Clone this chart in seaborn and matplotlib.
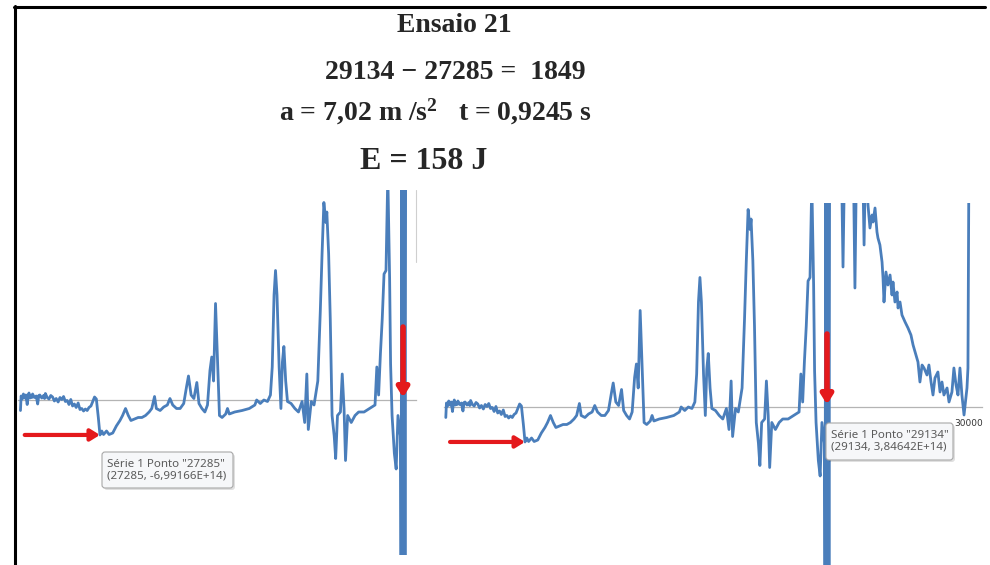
import matplotlib
matplotlib.use("Agg")
import matplotlib.pyplot as plt
import matplotlib.transforms as mtransforms
from matplotlib.lines import Line2D
from matplotlib.patches import FancyBboxPatch
import pandas as pd
import seaborn as sns

# ---------------- data (sample index, value in units of 1E+14) ----------------
amostra = [
    26800, 26804, 26811, 26818, 26826, 26833, 26841, 26847, 26852, 26858,
    26863, 26870, 26874, 26885, 26896, 26905, 26912, 26918, 26930, 26941,
    26947, 26952, 26963, 26974, 26985, 26996, 27007, 27018, 27030, 27041,
    27052, 27063, 27074, 27085, 27096, 27107, 27118, 27129, 27140, 27152,
    27163, 27174, 27185, 27196, 27207, 27218, 27230, 27241, 27252, 27263,
    27275, 27285, 27296, 27307, 27325, 27341,
    27363, 27385, 27407, 27423, 27441, 27458, 27474, 27496, 27518, 27541,
    27563, 27585, 27601, 27618, 27629, 27652, 27674, 27696, 27712, 27729,
    27752, 27774, 27796, 27814, 27825, 27841, 27858, 27876, 27889, 27907,
    27925, 27941, 27956, 27967, 27978, 27990, 28001, 28014, 28030, 28052,
    28063, 28074, 28107, 28152, 28196, 28230, 28241, 28263, 28285, 28307,
    28325, 28336, 28347, 28356, 28365, 28378, 28389, 28398, 28407, 28418,
    28429, 28451, 28474, 28496, 28518, 28534, 28547, 28556, 28574, 28591,
    28614, 28629, 28640, 28651, 28663, 28669, 28680, 28690, 28701, 28714,
    28723, 28734, 28752, 28763, 28774, 28783, 28796, 28818, 28841, 28863,
    28896, 28930, 28963, 28974, 28985, 28996, 29007, 29018, 29030, 29041,
    29052, 29058, 29067, 29081, 29092, 29103, 29118, 29122, 29126, 29130,
    29134, 29138, 29142, 29146, 29150, 29222, 29232, 29242, 29295, 29305,
    29315, 29352, 29361, 29370, 29385, 29397, 29410, 29416, 29428, 29440,
    29446, 29458, 29471, 29477, 29483, 29495, 29507, 29520, 29532, 29538,
    29550, 29563, 29569, 29581, 29593, 29612, 29630, 29648, 29661, 29679,
    29691, 29703, 29716, 29728, 29746, 29758, 29771, 29783, 29795, 29813,
    29826, 29838, 29850, 29869, 29881, 29899, 29911, 29924, 29936, 29948,
    29960, 29973, 29991, 29997, 30003,
]
valor = [
    -2.1, 0.8, 0.2, 1.2, 0.4, 1.0, -0.9, 0.9, 1.4, 0.4,
    0.9, 0.5, 1.2, 0.5, 0.8, -0.8, 0.9, 1.0, 0.4, 0.9,
    0.3, 1.3, 0.5, 0.2, 0.9, 0.6, -0.2, 0.3, -0.4, 0.5,
    0.1, 0.7, -0.3, -0.1, -0.9, 0.1, -1.2, -0.8, -1.5, -0.6,
    -1.9, -1.7, -2.2, -1.8, -2.1, -1.5, -1.2, -0.3, 0.6, 0.2,
    -3.5, -6.99166, -6.2, -6.9, -6.2, -6.9,
    -6.6, -5.2, -4.1, -3.1, -1.7, -3.1, -4.1, -3.8, -3.5, -3.5,
    -3.1, -2.4, -1.7, 0.7, -1.7, -2.1, -1.4, -1.0, 0.3, -1.0,
    -1.7, -1.7, -0.7, 2.8, 4.8, 1.0, 0.3, 3.5, -0.7, -1.7,
    -2.4, -1.0, 5.9, 8.6, 3.8, 19.3, 9.3, -3.1, -3.5, -2.8,
    -1.7, -2.8, -2.4, -2.1, -1.7, -1.0, 0.0, -0.7, 0.0, -0.3,
    1.0, 6.6, 21.0, 25.9, 21.0, 6.6, -1.7, 7.6, 10.7, 3.8,
    -0.3, -0.7, -1.7, -2.4, -0.3, -4.5, 5.2, -5.9, -0.3, -1.0,
    3.8, 17.6, 29.3, 39.5, 35.5, 37.6, 29.3, 16.2, -3.1, -7.2,
    -11.7, -3.1, -2.4, 5.2, -1.7, -12.1, -3.1, -4.5, -3.1, -2.4,
    -2.4, -1.7, -1.0, 6.6, 1.0, 9.3, 16.2, 25.2, 25.9, 45.0,
    24.5, 7.2, -3.1, -10.7, -13.8, -3.1, -7.2, -40.0, 50.0, -40.0,
    3.84642, -40.0, 50.0, -40.0, 50.0, 50.0, 28.0, 50.0, 50.0, 23.8,
    50.0, 50.0, 32.4, 50.0, 40.4, 35.8, 38.4, 37.0, 39.8, 35.0,
    33.8, 32.4, 29.0, 25.8, 21.0, 27.0, 24.4, 26.4, 22.4, 25.0,
    21.0, 23.0, 19.8, 21.0, 18.4, 17.0, 15.8, 14.4, 12.4, 10.4,
    9.0, 5.0, 8.4, 7.8, 6.4, 8.4, 5.0, 2.4, 5.8, 7.0,
    3.0, 5.0, 2.4, 3.8, 1.0, 3.0, 7.8, 4.4, 2.4, 7.8,
    2.4, -1.6, 3.8, 7.8, 50.0,
]

ponto_inicio = 27285
valor_inicio = -6.99166
ponto_fim = 29134
valor_fim = 3.84642
ticks_x = [30000]
rotulos_x = ["30000"]

titulo = "Ensaio 21"
linha_diferenca = "29134 \u2212 27285 =  1849"
linha_at = "a = 7,02 m /s$^{2}$   t = 0,9245 s"
linha_energia = "E = 158 J"
dica_inicio = 'Série 1 Ponto "27285"\n(27285, -6,99166E+14)'
dica_fim = 'Série 1 Ponto "29134"\n(29134, 3,84642E+14)'

# ---------------- style ----------------
sns.set_style("white")
plt.rcParams["font.family"] = ["DejaVu Sans"]
plt.rcParams["mathtext.fontset"] = "custom"
plt.rcParams["mathtext.rm"] = "Liberation Serif:bold"
plt.rcParams["mathtext.bf"] = "Liberation Serif:bold"
plt.rcParams["mathtext.it"] = "Liberation Serif:bold"

W, H = 990, 565
fig = plt.figure(figsize=(W / 100, H / 100), dpi=100)
fig.patch.set_facecolor("white")


def fx(px):
    return px / W


def fy(py):
    return 1 - py / H


azul = "#4A7EBB"
vermelho = "#E4191C"
cinza_eixo = "#B4B4B4"

df = pd.DataFrame({"amostra": amostra, "valor": valor})

ax1 = fig.add_axes([fx(18), fy(555), 398 / W, 365 / H])
ax2 = fig.add_axes([fx(444), 0.0, 538 / W, 362 / H])

for ax, xl, yl in [(ax1, (26785, 29213), (-31, 42)), (ax2, (26789, 30083), (-31.6, 40.8))]:
    sns.lineplot(data=df, x="amostra", y="valor", ax=ax, color=azul,
                 linewidth=2.0, estimator=None, sort=False, zorder=3)
    ax.set_xlim(*xl)
    ax.set_ylim(*yl)
    ax.patch.set_alpha(0)
    for s in ["top", "right", "left"]:
        ax.spines[s].set_visible(False)
    ax.spines["bottom"].set_position(("data", 0))
    ax.spines["bottom"].set_color(cinza_eixo)
    ax.spines["bottom"].set_linewidth(0.9)
    ax.spines["bottom"].set_zorder(1)
    ax.set_yticks([])
    ax.set_xlabel("")
    ax.set_ylabel("")

ax1.set_xticks([])
ax2.set_xticks(ticks_x)
ax2.set_xticklabels(rotulos_x)
ax2.tick_params(axis="x", length=0, pad=8.5, labelsize=6.5, labelcolor="#333333")

# red arrows
estilo_seta = "-|>,head_length=0.45,head_width=0.28"
for ax in (ax1, ax2):
    ax.annotate("", xy=(ponto_inicio, valor_inicio),
                xytext=(ponto_inicio - 459, valor_inicio),
                arrowprops=dict(arrowstyle=estilo_seta, color=vermelho, lw=3.0,
                                mutation_scale=12, shrinkA=0, shrinkB=0),
                zorder=5)
    ax.annotate("", xy=(ponto_fim, 0.5), xytext=(ponto_fim, 14.6),
                arrowprops=dict(arrowstyle=estilo_seta, color=vermelho, lw=4.0,
                                mutation_scale=12, shrinkA=0, shrinkB=0),
                zorder=5)

# tooltips (pixel placement)
ident = mtransforms.IdentityTransform()


def dica(x0, y0, w, h, texto):
    sombra = FancyBboxPatch((x0 + 2, H - y0 - h - 2), w, h,
                            boxstyle="round,pad=0,rounding_size=3",
                            fc="#000000", ec="none", alpha=0.12,
                            transform=ident, zorder=8)
    caixa = FancyBboxPatch((x0, H - y0 - h), w, h,
                           boxstyle="round,pad=0,rounding_size=3",
                           fc="#F6F7F9", ec="#A8A8A8", lw=0.8,
                           transform=ident, zorder=9)
    fig.add_artist(sombra)
    fig.add_artist(caixa)
    fig.text(fx(x0 + 5), fy(y0 + h / 2), texto, ha="left", va="center",
             fontsize=8.3, color="#5A5A5A", family=["Noto Sans", "DejaVu Sans"],
             linespacing=1.1, zorder=10)


dica(102, 452, 131, 36, dica_inicio)
dica(826, 423, 127, 37, dica_fim)

# header texts
serif = ["Liberation Serif", "DejaVu Serif"]
fig.text(fx(454), fy(32), titulo, ha="center", va="baseline", fontsize=20,
         fontweight="bold", family=serif)
fig.text(fx(455), fy(79), linha_diferenca, ha="center", va="baseline", fontsize=20,
         fontweight="bold", family=serif)
fig.text(fx(435), fy(120), linha_at, ha="center", va="baseline", fontsize=20,
         fontweight="bold", family=serif)
fig.text(fx(424), fy(169), linha_energia, ha="center", va="baseline", fontsize=23,
         fontweight="bold", family=serif)

# frame lines
fig.add_artist(Line2D([fx(15), fx(15)], [fy(6), fy(565)], color="black", lw=2.2))
fig.add_artist(Line2D([fx(14), fx(985)], [fy(7), fy(7)], color="black", lw=2.2))
fig.add_artist(Line2D([fx(416), fx(416)], [fy(190), fy(262)], color="#CFCFCF", lw=0.8))

fig.savefig("out.png", dpi=100, facecolor="white")
